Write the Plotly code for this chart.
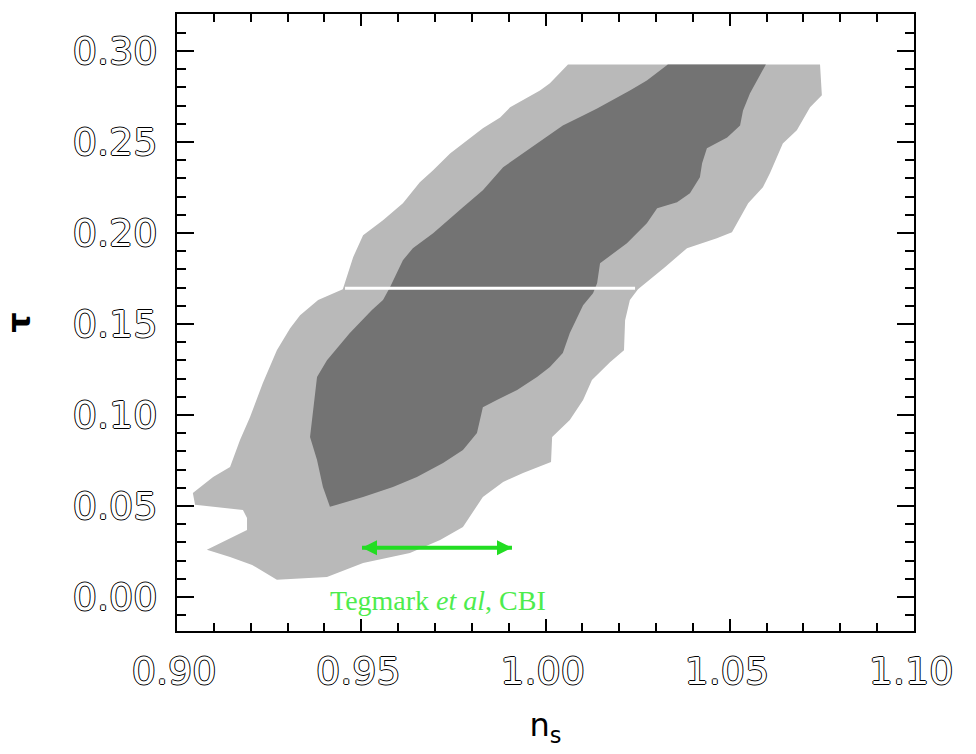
import plotly.graph_objects as go

# 68% / 95% confidence regions in the (n_s, tau) plane
outer_ns = [1.0061, 1.0745, 1.0750, 1.0718, 1.0682, 1.0644, 1.0609, 1.0590, 1.0550, 1.0506,
            1.0465, 1.0384, 1.0324, 1.0275, 1.0251, 1.0229, 1.0216, 1.0213, 1.0175, 1.0126,
            1.0102, 1.0066, 1.0018, 1.0015, 0.9939, 0.9885, 0.9830, 0.9776, 0.9714, 0.9632,
            0.9505, 0.9407, 0.9271, 0.9204, 0.9144, 0.9081, 0.9190, 0.9190, 0.9179, 0.9049,
            0.9043, 0.9098, 0.9144, 0.9171, 0.9198, 0.9233, 0.9271, 0.9307, 0.9334, 0.9383,
            0.9450, 0.9478, 0.9505, 0.9559, 0.9613, 0.9659, 0.9695, 0.9741, 0.9776, 0.9830,
            0.9877, 0.9904, 0.9985, 1.0012]
outer_tau = [0.2926, 0.2926, 0.2756, 0.2690, 0.2564, 0.2492, 0.2328, 0.2251, 0.2163, 0.2004,
             0.1971, 0.1916, 0.1812, 0.1729, 0.1691, 0.1631, 0.1521, 0.1356, 0.1290, 0.1192,
             0.1082, 0.0972, 0.0879, 0.0741, 0.0681, 0.0632, 0.0549, 0.0385, 0.0313, 0.0242,
             0.0187, 0.0110, 0.0094, 0.0176, 0.0220, 0.0259, 0.0368, 0.0434, 0.0478, 0.0506,
             0.0571, 0.0659, 0.0714, 0.0862, 0.0988, 0.1175, 0.1356, 0.1477, 0.1548, 0.1631,
             0.1691, 0.1867, 0.1987, 0.2070, 0.2163, 0.2278, 0.2344, 0.2437, 0.2492, 0.2575,
             0.2635, 0.2690, 0.2783, 0.2822]

inner_ns = [1.0332, 1.0598, 1.0574, 1.0555, 1.0536, 1.0528, 1.0493, 1.0438, 1.0425, 1.0419,
            1.0392, 1.0357, 1.0303, 1.0275, 1.0221, 1.0148, 1.0140, 1.0129, 1.0102, 1.0066,
            1.0047, 1.0012, 0.9977, 0.9923, 0.9868, 0.9830, 0.9814, 0.9776, 0.9722, 0.9651,
            0.9586, 0.9505, 0.9434, 0.9415, 0.9396, 0.9380, 0.9361, 0.9369, 0.9380, 0.9407,
            0.9469, 0.9529, 0.9559, 0.9578, 0.9613, 0.9640, 0.9695, 0.9776, 0.9830, 0.9885,
            0.9912, 0.9977, 1.0012, 1.0047, 1.0102, 1.0140, 1.0229, 1.0275]
inner_tau = [0.2926, 0.2926, 0.2838, 0.2767, 0.2673, 0.2591, 0.2525, 0.2465, 0.2383, 0.2306,
             0.2218, 0.2169, 0.2136, 0.2053, 0.1943, 0.1834, 0.1724, 0.1669, 0.1603, 0.1450,
             0.1340, 0.1263, 0.1208, 0.1137, 0.1082, 0.1043, 0.0901, 0.0807, 0.0736, 0.0659,
             0.0604, 0.0549, 0.0506, 0.0495, 0.0604, 0.0752, 0.0879, 0.1027, 0.1208, 0.1301,
             0.1450, 0.1576, 0.1631, 0.1702, 0.1850, 0.1916, 0.1998, 0.2141, 0.2234, 0.2361,
             0.2399, 0.2492, 0.2542, 0.2591, 0.2646, 0.2684, 0.2783, 0.2838]

gap_ns = [0.9456, 1.0243]
gap_tau = [0.1696, 0.1696]

cbi_ns = [0.9502, 0.9909]
cbi_tau = [0.027, 0.027]
cbi_label = "Tegmark <i>et al</i>, CBI"
cbi_label_pos = (0.9708, -0.002)

x_ticks = [0.90, 0.95, 1.00, 1.05, 1.10]
y_ticks = [0.00, 0.05, 0.10, 0.15, 0.20, 0.25, 0.30]

fig = go.Figure()
fig.add_trace(go.Scatter(x=outer_ns, y=outer_tau, mode="lines", fill="toself",
                         fillcolor="#b9b9b9", line=dict(width=0, color="#b9b9b9"),
                         hoverinfo="skip", showlegend=False))
fig.add_trace(go.Scatter(x=inner_ns, y=inner_tau, mode="lines", fill="toself",
                         fillcolor="#737373", line=dict(width=0, color="#737373"),
                         hoverinfo="skip", showlegend=False))
fig.add_trace(go.Scatter(x=gap_ns, y=gap_tau, mode="lines",
                         line=dict(width=3, color="white"),
                         hoverinfo="skip", showlegend=False))
fig.add_trace(go.Scatter(x=cbi_ns, y=cbi_tau, mode="lines+markers",
                         line=dict(width=4, color="#22dd22"),
                         marker=dict(symbol=["arrow-left", "arrow-right"], size=15,
                                     color="#22dd22", line=dict(width=0)),
                         hoverinfo="skip", showlegend=False))

fig.add_annotation(x=cbi_label_pos[0], y=cbi_label_pos[1], xref="x", yref="y",
                   text=cbi_label, showarrow=False,
                   font=dict(family="Liberation Serif", size=28, color="#4dec4d"))

tick_font = dict(family="DejaVu Sans", size=38, color="white",
                 shadow="1px 0 0 #000, -1px 0 0 #000, 0 1px 0 #000, 0 -1px 0 #000")

fig.update_xaxes(range=[0.9, 1.1], tickvals=x_ticks, tickformat=".2f",
                 ticks="inside", ticklen=12, tickwidth=2, tickcolor="black",
                 minor=dict(dtick=0.01, tick0=0.9, ticks="inside", ticklen=8,
                            tickwidth=1.5, tickcolor="black"),
                 showline=True, linecolor="black", linewidth=2, mirror="ticks",
                 showgrid=False, zeroline=False, tickfont=tick_font,
                 ticklabelstandoff=5, ticklabelshift=-3,
                 title=dict(text="n<sub>s</sub>", standoff=22,
                            font=dict(family="DejaVu Sans", size=32, color="black")))
fig.update_yaxes(range=[-0.0187, 0.3203], tickvals=y_ticks, tickformat=".2f",
                 ticks="inside", ticklen=17, tickwidth=2, tickcolor="black",
                 minor=dict(dtick=0.01, tick0=0, ticks="inside", ticklen=9,
                            tickwidth=1.5, tickcolor="black"),
                 showline=True, linecolor="black", linewidth=2, mirror="ticks",
                 showgrid=False, zeroline=False, tickfont=tick_font,
                 ticklabelstandoff=10,
                 title=dict(text="<b>τ</b>", standoff=36,
                            font=dict(family="DejaVu Sans", size=32, color="black")))

fig.update_layout(width=976, height=754, margin=dict(l=177, r=62, t=14, b=123),
                  plot_bgcolor="white", paper_bgcolor="white")

fig.write_html("out.html")
